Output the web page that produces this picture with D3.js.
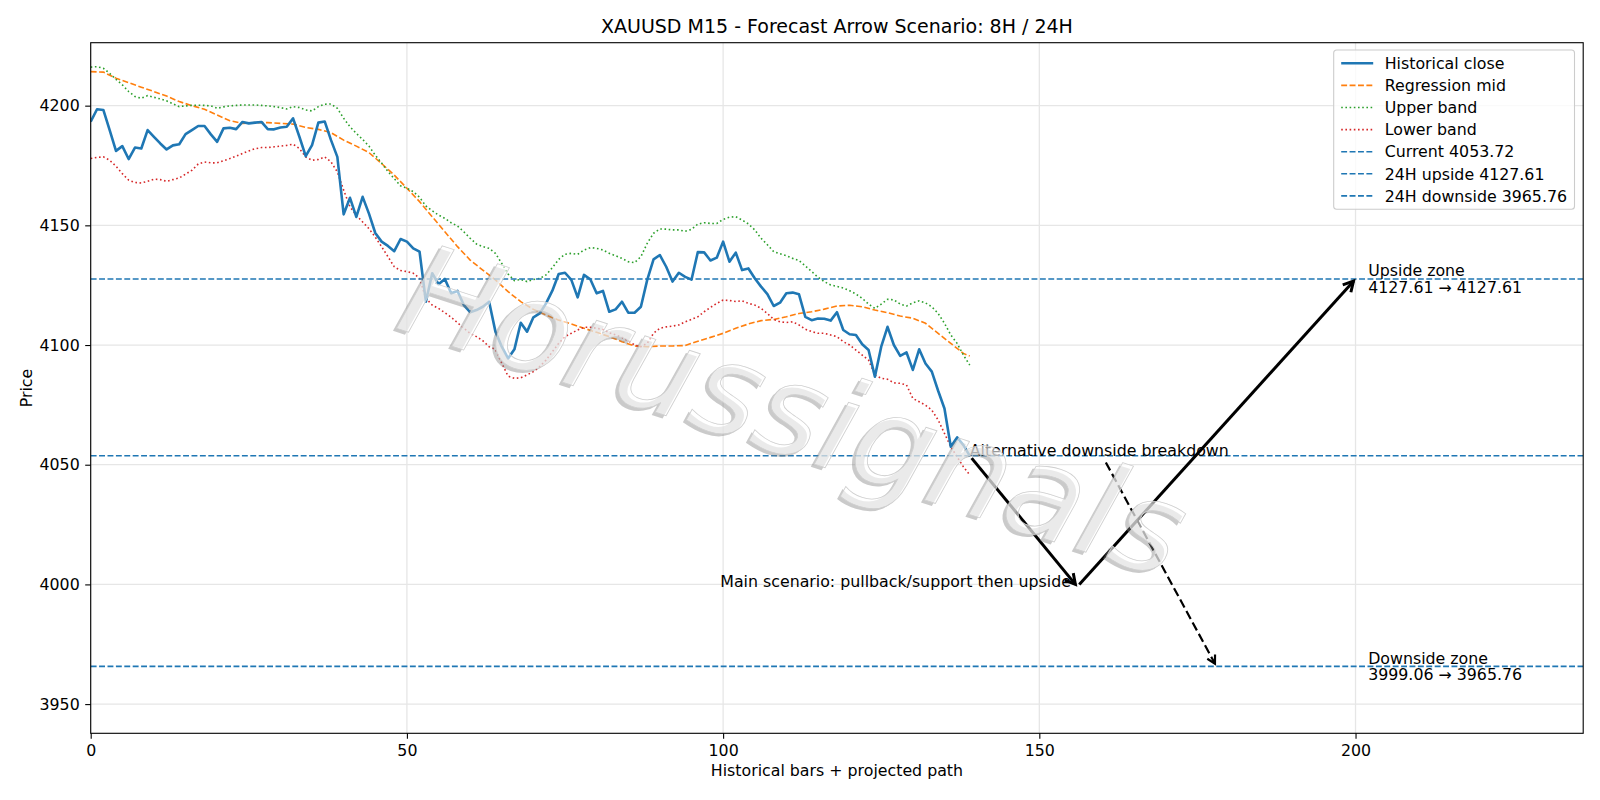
<!DOCTYPE html>
<html>
<head>
<meta charset="utf-8">
<script src="https://cdn.jsdelivr.net/npm/d3@7"></script>
<style>
  body { margin: 0; background: #fff; }
  svg { display: block; font-family: "DejaVu Sans", sans-serif; }
</style>
</head>
<body>
<div id="container"></div>
<script>
/* DATA */
const closeValues = [
  4193.3, 4198.5, 4198.2, 4189.8, 4181.1, 4183.1, 4177.7, 4182.5, 4182.1, 4189.8,
  4187.0, 4184.2, 4181.7, 4183.4, 4183.9, 4188.1, 4189.8, 4191.5, 4191.5, 4188.0,
  4184.9, 4190.5, 4190.8, 4190.2, 4193.2, 4192.6, 4192.9, 4193.2, 4190.2, 4190.1,
  4190.9, 4191.2, 4194.7, 4187.0, 4178.9, 4183.5, 4192.9, 4193.4, 4185.6, 4178.6,
  4154.6, 4161.5, 4153.5, 4161.9, 4154.9, 4146.8, 4143.2, 4141.4, 4139.2, 4144.3,
  4143.2, 4140.4, 4139.0, 4118.1, 4130.0, 4125.4, 4127.6, 4121.6, 4122.6, 4116.7,
  4113.7, 4114.6, 4116.0, 4118.1, 4105.6, 4099.3, 4094.4, 4098.2, 4109.3, 4105.6,
  4111.6, 4113.2, 4117.4, 4122.7, 4129.7, 4130.2, 4127.2, 4119.9, 4129.3, 4127.5,
  4121.6, 4122.6, 4113.9, 4114.9, 4118.1, 4113.5, 4113.5, 4116.0, 4127.2, 4135.8,
  4137.6, 4132.7, 4126.5, 4130.2, 4128.5, 4127.3, 4138.8, 4138.7, 4135.3, 4136.5,
  4143.2, 4134.8, 4138.6, 4131.3, 4132.0, 4127.9, 4124.4, 4121.3, 4116.3, 4117.7,
  4121.6, 4121.9, 4121.2, 4111.8, 4110.4, 4111.1, 4111.0, 4110.2, 4113.7, 4106.3,
  4104.5, 4104.2, 4100.3, 4097.9, 4086.8, 4099.3, 4107.6, 4100.0, 4095.5, 4096.9,
  4089.6, 4098.2, 4092.3, 4088.9, 4080.9, 4073.5, 4057.5, 4061.4, 4058.2, 4053.72
];

const upperValues = [
  4216.1, 4216.3, 4215.6, 4213.5, 4211.0, 4208.7, 4205.9, 4203.8, 4203.1, 4204.2,
  4203.5, 4202.8, 4202.0, 4200.8, 4199.6, 4199.9, 4200.1, 4200.2, 4200.1, 4199.9,
  4198.9, 4199.5, 4199.9, 4200.1, 4200.3, 4200.3, 4200.3, 4200.1, 4199.9, 4199.6,
  4199.2, 4198.6, 4199.6, 4199.2, 4198.2, 4197.8, 4199.6, 4200.6, 4200.7, 4198.9,
  4194.7, 4191.2, 4188.4, 4185.9, 4183.1, 4179.3, 4176.0, 4172.5, 4169.5, 4166.5,
  4165.5, 4164.1, 4161.7, 4158.1, 4156.1, 4154.3, 4152.9, 4151.1, 4149.7, 4147.3,
  4144.6, 4142.2, 4141.1, 4140.4, 4138.3, 4134.1, 4129.7, 4126.9, 4127.4, 4126.5,
  4127.4, 4127.8, 4129.3, 4132.3, 4135.8, 4137.9, 4138.3, 4137.9, 4139.7, 4140.7,
  4140.4, 4139.7, 4138.3, 4137.3, 4136.2, 4134.8, 4134.4, 4136.9, 4142.5, 4146.7,
  4148.5, 4148.4, 4148.1, 4148.1, 4147.5, 4148.3, 4150.5, 4151.1, 4150.8, 4150.8,
  4152.5, 4153.4, 4153.6, 4152.2, 4150.6, 4148.1, 4144.6, 4141.9, 4139.0, 4138.1,
  4137.3, 4136.2, 4135.3, 4133.0, 4130.7, 4128.3, 4126.5, 4125.1, 4124.5, 4123.8,
  4122.7, 4121.3, 4119.5, 4117.1, 4115.3, 4117.1, 4119.1, 4118.9, 4117.1, 4116.3,
  4117.6, 4118.5, 4117.6, 4116.0, 4113.2, 4109.1, 4104.2, 4100.7, 4095.8, 4091.6
];

const lowerValues = [
  4177.9, 4178.4, 4178.6, 4177.2, 4174.7, 4171.6, 4168.9, 4167.9, 4167.7, 4168.4,
  4169.3, 4169.1, 4168.4, 4169.1, 4169.8, 4171.4, 4173.0, 4175.6, 4176.5, 4176.1,
  4176.1, 4177.0, 4177.9, 4178.9, 4180.0, 4181.1, 4182.0, 4182.5, 4182.5, 4182.8,
  4183.1, 4183.4, 4183.9, 4182.1, 4178.6, 4177.2, 4177.5, 4178.6, 4176.5, 4172.3,
  4164.7, 4157.7, 4154.2, 4151.4, 4148.6, 4145.1, 4141.1, 4136.9, 4132.7, 4131.1,
  4130.7, 4130.0, 4127.9, 4119.5, 4116.7, 4115.3, 4113.5, 4111.6, 4109.3, 4107.0,
  4104.9, 4103.5, 4101.8, 4099.3, 4098.2, 4092.4, 4087.0, 4086.1, 4086.3, 4087.5,
  4088.9, 4091.0, 4093.7, 4097.2, 4100.7, 4103.5, 4104.9, 4106.3, 4107.4, 4107.4,
  4107.0, 4106.5, 4105.1, 4104.2, 4103.2, 4101.8, 4100.0, 4099.3, 4100.7, 4104.9,
  4107.0, 4107.6, 4107.9, 4108.4, 4109.7, 4110.7, 4111.8, 4113.9, 4115.7, 4117.4,
  4118.8, 4118.6, 4118.2, 4118.5, 4117.4, 4116.7, 4115.3, 4113.2, 4110.7, 4109.7,
  4109.4, 4109.7, 4108.4, 4106.6, 4105.6, 4104.9, 4104.9, 4104.2, 4103.5, 4101.4,
  4100.0, 4097.9, 4095.8, 4093.7, 4087.5, 4086.1, 4085.7, 4084.2, 4084.0, 4083.3,
  4077.7, 4076.3, 4074.9, 4072.8, 4068.7, 4063.1, 4057.5, 4053.3, 4049.1, 4045.7
];

// regression mid was read every second bar
const midIndex = [
  0, 2, 4, 6, 8, 10, 12, 14, 16, 18, 20, 22, 24, 26, 28, 30, 32, 34, 36, 38,
  40, 42, 44, 46, 48, 50, 52, 54, 56, 58, 60, 62, 64, 66, 68, 70, 72, 74, 76, 78,
  80, 82, 84, 86, 88, 90, 92, 94, 96, 98, 100, 102, 104, 106, 108, 110, 112, 114,
  116, 118, 120, 122, 124, 126, 128, 130, 132, 134, 136, 138, 139
];
const midValues = [
  4214.2, 4214.0, 4211.5, 4209.6, 4207.7, 4205.9, 4204.0, 4201.7, 4200.0, 4198.5,
  4196.1, 4193.7, 4192.6, 4192.9, 4192.9, 4192.6, 4192.3, 4190.9, 4190.1, 4188.7,
  4185.6, 4183.1, 4180.4, 4175.8, 4171.0, 4165.5, 4159.9, 4153.6, 4147.3, 4141.1,
  4135.5, 4131.3, 4127.2, 4122.3, 4118.1, 4114.9, 4112.5, 4110.4, 4108.8, 4107.0,
  4105.3, 4103.5, 4101.4, 4099.6, 4099.3, 4099.6, 4099.6, 4099.8, 4101.6, 4103.2,
  4104.9, 4107.0, 4108.8, 4110.2, 4110.7, 4111.8, 4113.2, 4113.9, 4115.0, 4116.3,
  4116.6, 4116.0, 4114.6, 4113.5, 4112.1, 4111.2, 4109.1, 4104.9, 4100.7, 4096.5,
  4095.4
];

const currentPrice = 4053.72;
const upsideTarget = 4127.61;
const downsideTarget = 3965.76;
const pullbackLevel = 3999.06;

// scenario path points [bar, price]
const mainPath = [[139, currentPrice], [156, pullbackLevel], [200, upsideTarget]];
const altTarget = [178, downsideTarget];

const xTicks = [0, 50, 100, 150, 200];
const yTicks = [3950, 4000, 4050, 4100, 4150, 4200];

const legendItems = [
  {label: "Historical close", color: "#1f77b4", width: 2.6, dash: null},
  {label: "Regression mid", color: "#ff7f0e", width: 1.6, dash: "5.9,2.5"},
  {label: "Upper band", color: "#2ca02c", width: 1.6, dash: "1.6,2.6"},
  {label: "Lower band", color: "#d62728", width: 1.6, dash: "1.6,2.6"},
  {label: "Current " + currentPrice.toFixed(2), color: "#1f77b4", width: 1.6, dash: "5.9,2.5"},
  {label: "24H upside " + upsideTarget.toFixed(2), color: "#1f77b4", width: 1.6, dash: "5.9,2.5"},
  {label: "24H downside " + downsideTarget.toFixed(2), color: "#1f77b4", width: 1.6, dash: "5.9,2.5"}
];

/* LAYOUT */
const W = 1600, H = 800;
const margin = {top: 42.7, right: 16.8, bottom: 66.7, left: 90.7};
const plotW = W - margin.left - margin.right;
const plotH = H - margin.top - margin.bottom;
const FS = 15.8;

const svg = d3.select("#container").append("svg")
  .attr("width", W).attr("height", H);

svg.append("defs").append("clipPath").attr("id", "clip")
  .append("rect").attr("width", plotW).attr("height", plotH);

const g = svg.append("g")
  .attr("transform", `translate(${margin.left},${margin.top})`);

/* SCALES */
const xScale = d3.scaleLinear().domain([0, 236]).range([0, plotW]);
const yScale = d3.scaleLinear().domain([3937.8, 4226.3]).range([plotH, 0]);

// grid
g.append("g").selectAll("line").data(xTicks).join("line")
  .attr("x1", d => xScale(d)).attr("x2", d => xScale(d))
  .attr("y1", 0).attr("y2", plotH)
  .attr("stroke", "#e6e6e6").attr("stroke-width", 1.3);
g.append("g").selectAll("line").data(yTicks).join("line")
  .attr("y1", d => yScale(d)).attr("y2", d => yScale(d))
  .attr("x1", 0).attr("x2", plotW)
  .attr("stroke", "#e6e6e6").attr("stroke-width", 1.3);

const plot = g.append("g").attr("clip-path", "url(#clip)");

/* LINES */
const line = d3.line().x(d => xScale(d[0])).y(d => yScale(d[1]));
const asPoints = vals => vals.map((v, i) => [i, v]);

plot.append("path").attr("d", line(midIndex.map((d, i) => [d, midValues[i]])))
  .attr("fill", "none").attr("stroke", "#ff7f0e").attr("stroke-width", 1.6)
  .attr("stroke-dasharray", "5.9,2.5");
plot.append("path").attr("d", line(asPoints(upperValues)))
  .attr("fill", "none").attr("stroke", "#2ca02c").attr("stroke-width", 1.6)
  .attr("stroke-dasharray", "1.6,2.6");
plot.append("path").attr("d", line(asPoints(lowerValues)))
  .attr("fill", "none").attr("stroke", "#d62728").attr("stroke-width", 1.6)
  .attr("stroke-dasharray", "1.6,2.6");
plot.append("path").attr("d", line(asPoints(closeValues)))
  .attr("fill", "none").attr("stroke", "#1f77b4").attr("stroke-width", 2.6)
  .attr("stroke-linejoin", "round");

// horizontal levels
plot.selectAll(".level").data([currentPrice, upsideTarget, downsideTarget]).join("line")
  .attr("class", "level")
  .attr("x1", 0).attr("x2", plotW)
  .attr("y1", d => yScale(d)).attr("y2", d => yScale(d))
  .attr("stroke", "#1f77b4").attr("stroke-width", 1.6)
  .attr("stroke-dasharray", "5.9,2.5");

/* ARROWS */
function arrow(p0, p1, opts) {
  let [x0, y0] = p0, [x1, y1] = p1;
  const dx = x1 - x0, dy = y1 - y0, len = Math.hypot(dx, dy);
  const ux = dx / len, uy = dy / len;
  x0 += ux * opts.shrinkA; y0 += uy * opts.shrinkA;
  x1 -= ux * opts.shrinkB; y1 -= uy * opts.shrinkB;
  const a = plot.append("g");
  a.append("line").attr("x1", x0).attr("y1", y0).attr("x2", x1).attr("y2", y1)
    .attr("stroke", "#000").attr("stroke-width", opts.width)
    .attr("stroke-dasharray", opts.dash || null);
  const hl = opts.head, hw = opts.head * 0.55;
  const bx = x1 - ux * hl, by = y1 - uy * hl;
  a.append("path")
    .attr("d", `M${bx - uy * hw},${by + ux * hw}L${x1},${y1}L${bx + uy * hw},${by - ux * hw}`)
    .attr("fill", "none").attr("stroke", "#000").attr("stroke-width", opts.width)
    .attr("stroke-linejoin", "miter");
}

const px = d => [xScale(d[0]), yScale(d[1])];
arrow(px(mainPath[0]), px(mainPath[1]), {width: 3, shrinkA: 3, shrinkB: 3, head: 10});
arrow(px(mainPath[1]), px(mainPath[2]), {width: 3, shrinkA: 3, shrinkB: 3, head: 10});

/* WATERMARK */
const wm = svg.append("g").attr("transform", "translate(791,420) rotate(18)");
// grey shadow, then a half-transparent white outlined face on top
wm.append("text").attr("x", -2.5).attr("y", 3.5)
  .attr("text-anchor", "middle").attr("dominant-baseline", "middle")
  .attr("font-size", 127).attr("font-style", "italic")
  .attr("fill", "#808080").attr("fill-opacity", 0.42)
  .text("Horussignals");
wm.append("text")
  .attr("text-anchor", "middle").attr("dominant-baseline", "middle")
  .attr("font-size", 127).attr("font-style", "italic")
  .attr("fill", "#fff").attr("fill-opacity", 0.6)
  .attr("stroke", "#cfcfcf").attr("stroke-width", 0.8)
  .text("Horussignals");

/* ANNOTATIONS */
const altText = g.append("text")
  .attr("x", xScale(mainPath[0][0])).attr("y", yScale(currentPrice))
  .attr("font-size", FS).attr("fill", "#000")
  .text("Alternative downside breakdown");
const bb = altText.node().getBBox();
{
  const cx = bb.x + bb.width / 2, cy = bb.y + bb.height / 2;
  const [tx, ty] = px(altTarget);
  const ux = (tx - cx), uy = (ty - cy), l = Math.hypot(ux, uy);
  const t = (bb.y + bb.height - cy) / (uy / l) + 3;
  arrow([cx + ux / l * t, cy + uy / l * t], [tx, ty],
    {width: 2.2, shrinkA: 0, shrinkB: 3, head: 8, dash: "9,4"});
}

g.append("text")
  .attr("x", xScale(mainPath[1][0] - 1)).attr("y", yScale(pullbackLevel))
  .attr("text-anchor", "end").attr("font-size", FS).attr("fill", "#000")
  .text("Main scenario: pullback/support then upside");

function zoneLabel(level, lines) {
  const t = g.append("text").attr("font-size", FS).attr("fill", "#000");
  lines.forEach((s, i) => {
    t.append("tspan").attr("x", xScale(202))
      .attr("y", yScale(level) - 2.5 + i * 16.3).text(s);
  });
}
zoneLabel(upsideTarget, ["Upside zone", upsideTarget.toFixed(2) + " \u2192 " + upsideTarget.toFixed(2)]);
zoneLabel(downsideTarget, ["Downside zone", pullbackLevel.toFixed(2) + " \u2192 " + downsideTarget.toFixed(2)]);

/* AXES */
const xAxis = g.append("g").attr("transform", `translate(0,${plotH})`)
  .call(d3.axisBottom(xScale).tickValues(xTicks).tickFormat(d3.format("d"))
    .tickSizeInner(5.5).tickSizeOuter(0).tickPadding(5.5));
const yAxis = g.append("g")
  .call(d3.axisLeft(yScale).tickValues(yTicks).tickFormat(d3.format("d"))
    .tickSizeInner(5.5).tickSizeOuter(0).tickPadding(5.5));
[xAxis, yAxis].forEach(a => {
  a.select(".domain").remove();
  a.selectAll("line").attr("stroke", "#000").attr("stroke-width", 1.1);
  a.selectAll("text").attr("font-size", FS).attr("fill", "#000")
    .attr("font-family", "DejaVu Sans");
});

// spines
g.append("rect").attr("width", plotW).attr("height", plotH)
  .attr("fill", "none").attr("stroke", "#000").attr("stroke-width", 1.1);

/* LEGEND */
const lg = svg.append("g").attr("transform", "translate(1333.7,50)");
lg.append("rect").attr("width", 240.8).attr("height", 159.2).attr("rx", 3)
  .attr("fill", "#fff").attr("fill-opacity", 0.8)
  .attr("stroke", "#cccccc").attr("stroke-width", 1.1);
const rows = lg.selectAll(".row").data(legendItems).join("g")
  .attr("class", "row")
  .attr("transform", (d, i) => `translate(0,${13.3 + i * 22.1})`);
rows.append("line").attr("x1", 7.5).attr("x2", 39.5)
  .attr("stroke", d => d.color).attr("stroke-width", d => d.width)
  .attr("stroke-dasharray", d => d.dash);
rows.append("text").attr("x", 51).attr("dy", "0.36em")
  .attr("font-size", FS).attr("fill", "#000").text(d => d.label);

/* TITLES */
svg.append("text").attr("x", margin.left + plotW / 2).attr("y", 33)
  .attr("text-anchor", "middle").attr("font-size", 19).attr("fill", "#000")
  .text("XAUUSD M15 - Forecast Arrow Scenario: 8H / 24H");
svg.append("text").attr("x", margin.left + plotW / 2).attr("y", 776)
  .attr("text-anchor", "middle").attr("font-size", FS).attr("fill", "#000")
  .text("Historical bars + projected path");
svg.append("text").attr("transform", `translate(31.5,${margin.top + plotH / 2}) rotate(-90)`)
  .attr("text-anchor", "middle").attr("font-size", FS).attr("fill", "#000")
  .text("Price");
</script>
</body>
</html>
